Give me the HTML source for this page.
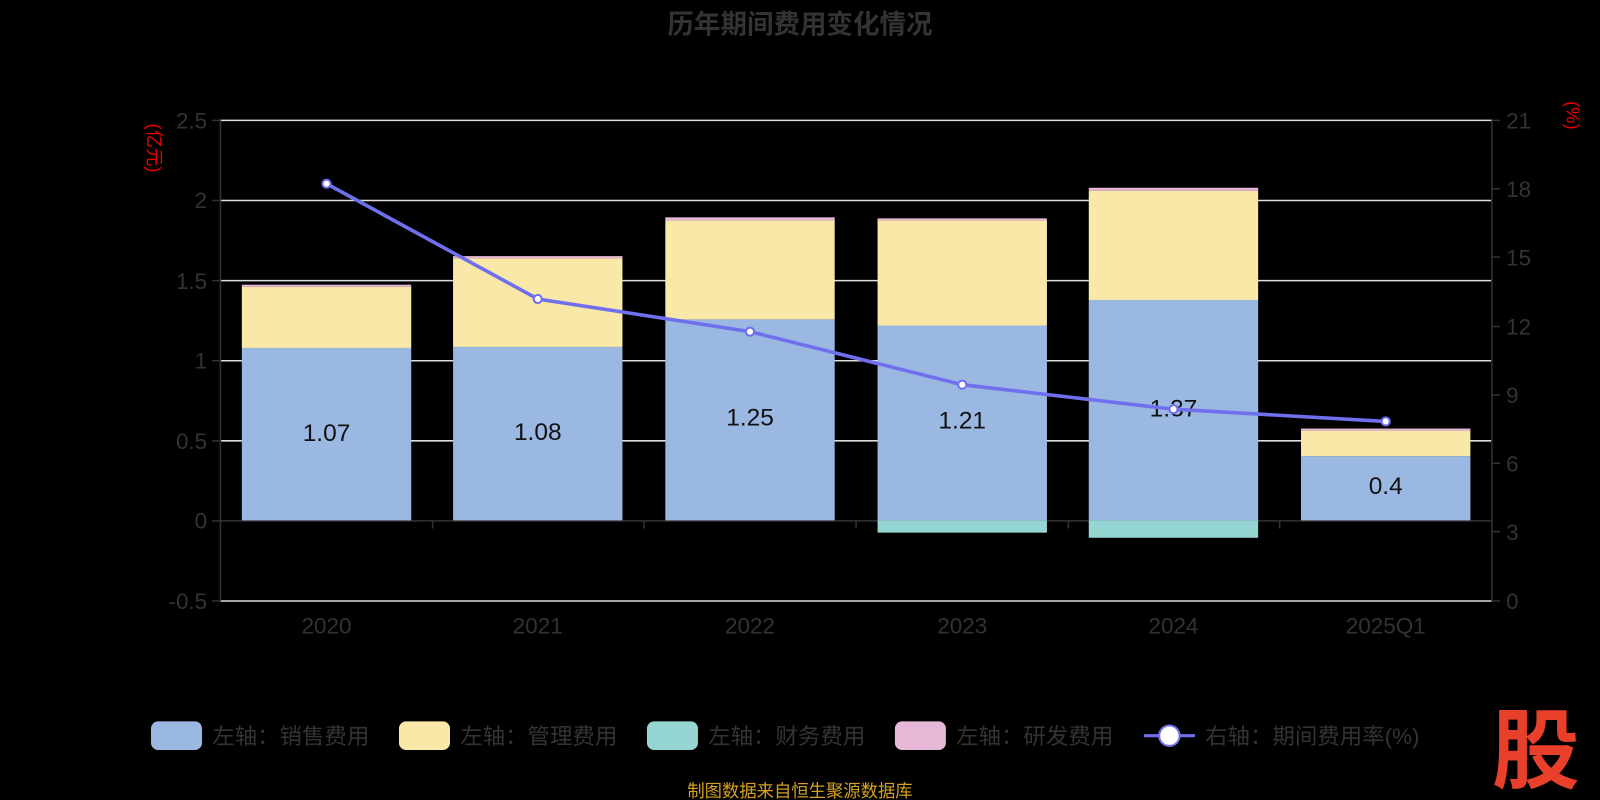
<!DOCTYPE html>
<html><head><meta charset="utf-8"><style>
html,body{margin:0;padding:0;background:#000;}
svg{display:block;font-family:"Liberation Sans","Noto Sans CJK SC",sans-serif;}
</style></head><body>
<svg width="1600" height="800" viewBox="0 0 1568 784" preserveAspectRatio="none">
<rect width="1568" height="784" fill="#000"/>
<text x="784" y="33" text-anchor="middle" font-size="26" font-weight="bold" fill="#333">历年期间费用变化情况</text>
<g stroke="#ddd" stroke-width="1.5">
<line x1="216" y1="118" x2="1462" y2="118"/>
<line x1="216" y1="196.5" x2="1462" y2="196.5"/>
<line x1="216" y1="275" x2="1462" y2="275"/>
<line x1="216" y1="353.5" x2="1462" y2="353.5"/>
<line x1="216" y1="432" x2="1462" y2="432"/>
<line x1="216" y1="589" x2="1462" y2="589"/>
</g>
<g stroke="#333" stroke-width="1.5">
<line x1="216" y1="118" x2="216" y2="589"/>
<line x1="1462" y1="118" x2="1462" y2="589"/>
<line x1="216" y1="510.5" x2="1462" y2="510.5"/>
<line x1="208" y1="118" x2="216" y2="118"/><line x1="208" y1="196.5" x2="216" y2="196.5"/><line x1="208" y1="275" x2="216" y2="275"/><line x1="208" y1="353.5" x2="216" y2="353.5"/><line x1="208" y1="432" x2="216" y2="432"/><line x1="208" y1="510.5" x2="216" y2="510.5"/><line x1="208" y1="589" x2="216" y2="589"/>
<line x1="1462" y1="118" x2="1470" y2="118"/><line x1="1462" y1="185" x2="1470" y2="185"/><line x1="1462" y1="252" x2="1470" y2="252"/><line x1="1462" y1="320" x2="1470" y2="320"/><line x1="1462" y1="387" x2="1470" y2="387"/><line x1="1462" y1="454" x2="1470" y2="454"/><line x1="1462" y1="521" x2="1470" y2="521"/><line x1="1462" y1="589" x2="1470" y2="589"/>
<line x1="424" y1="510" x2="424" y2="518"/><line x1="631" y1="510" x2="631" y2="518"/><line x1="839" y1="510" x2="839" y2="518"/><line x1="1047" y1="510" x2="1047" y2="518"/><line x1="1254" y1="510" x2="1254" y2="518"/>
</g>
<g font-size="22" fill="#333" text-anchor="end">
<text x="203" y="126">2.5</text><text x="203" y="204">2</text><text x="203" y="283">1.5</text><text x="203" y="361">1</text><text x="203" y="440">0.5</text><text x="203" y="518">0</text><text x="203" y="597">-0.5</text>
</g>
<g font-size="22" fill="#333" text-anchor="start">
<text x="1476" y="126">21</text><text x="1476" y="193">18</text><text x="1476" y="260">15</text><text x="1476" y="328">12</text><text x="1476" y="395">9</text><text x="1476" y="462">6</text><text x="1476" y="529">3</text><text x="1476" y="597">0</text>
</g>
<g font-size="22" fill="#333" text-anchor="middle">
<text x="320" y="621">2020</text><text x="527" y="621">2021</text><text x="735" y="621">2022</text><text x="943" y="621">2023</text><text x="1150" y="621">2024</text><text x="1358" y="621">2025Q1</text>
</g>
<text transform="translate(150,145) rotate(90)" font-size="18" fill="#e00" text-anchor="middle" dominant-baseline="middle">(亿元)</text>
<text transform="translate(1540,113) rotate(90)" font-size="18" fill="#e00" text-anchor="middle" dominant-baseline="middle">(%)</text>
<g>
<rect x="237" y="341" width="166" height="169" fill="#9bb8e2"/><rect x="237" y="281" width="166" height="60" fill="#f9e8a8"/><rect x="237" y="279" width="166" height="2" fill="#e8b8d8"/>
<rect x="444" y="340" width="166" height="170" fill="#9bb8e2"/><rect x="444" y="253" width="166" height="87" fill="#f9e8a8"/><rect x="444" y="251" width="166" height="2" fill="#e8b8d8"/>
<rect x="652" y="313" width="166" height="197" fill="#9bb8e2"/><rect x="652" y="216" width="166" height="97" fill="#f9e8a8"/><rect x="652" y="213" width="166" height="3" fill="#e8b8d8"/>
<rect x="860" y="319" width="166" height="191" fill="#9bb8e2"/><rect x="860" y="216" width="166" height="103" fill="#f9e8a8"/><rect x="860" y="214" width="166" height="2" fill="#e8b8d8"/><rect x="860" y="510" width="166" height="12" fill="#96d6d2"/>
<rect x="1067" y="294" width="166" height="216" fill="#9bb8e2"/><rect x="1067" y="187" width="166" height="107" fill="#f9e8a8"/><rect x="1067" y="184" width="166" height="3" fill="#e8b8d8"/><rect x="1067" y="510" width="166" height="17" fill="#96d6d2"/>
<rect x="1275" y="447" width="166" height="63" fill="#9bb8e2"/><rect x="1275" y="422" width="166" height="25" fill="#f9e8a8"/><rect x="1275" y="420" width="166" height="2" fill="#e8b8d8"/>
</g>
<g font-size="24" fill="#111" text-anchor="middle">
<text x="320" y="432">1.07</text><text x="527" y="431">1.08</text><text x="735" y="417">1.25</text><text x="943" y="420">1.21</text><text x="1150" y="408">1.37</text><text x="1358" y="484">0.4</text>
</g>
<polyline points="320,180 527,293 735,325 943,377 1150,401 1358,413" fill="none" stroke="#7070ee" stroke-width="3.5"/>
<g fill="#fff" stroke="#7070ee" stroke-width="2">
<circle cx="320" cy="180" r="4"/><circle cx="527" cy="293" r="4"/><circle cx="735" cy="325" r="4"/><circle cx="943" cy="377" r="4"/><circle cx="1150" cy="401" r="4"/><circle cx="1358" cy="413" r="4"/>
</g>
<g font-size="22" fill="#333">
<rect x="148" y="707" width="50" height="28" rx="7" fill="#9bb8e2"/><text x="208" y="729">左轴：销售费用</text>
<rect x="391" y="707" width="50" height="28" rx="7" fill="#f9e8a8"/><text x="451" y="729">左轴：管理费用</text>
<rect x="634" y="707" width="50" height="28" rx="7" fill="#96d6d2"/><text x="694" y="729">左轴：财务费用</text>
<rect x="877" y="707" width="50" height="28" rx="7" fill="#e8b8d8"/><text x="937" y="729">左轴：研发费用</text>
<line x1="1121" y1="721" x2="1171" y2="721" stroke="#7070ee" stroke-width="3"/><circle cx="1146" cy="721" r="10" fill="#fff" stroke="#7070ee" stroke-width="2"/><text x="1181" y="729">右轴：期间费用率(%)</text>
</g>
<text x="784" y="781" text-anchor="middle" font-size="17" fill="#d4a020">制图数据来自恒生聚源数据库</text>
<text x="1505" y="766" text-anchor="middle" font-size="86" font-weight="bold" fill="#e8402a">股</text>
</svg>
</body></html>
